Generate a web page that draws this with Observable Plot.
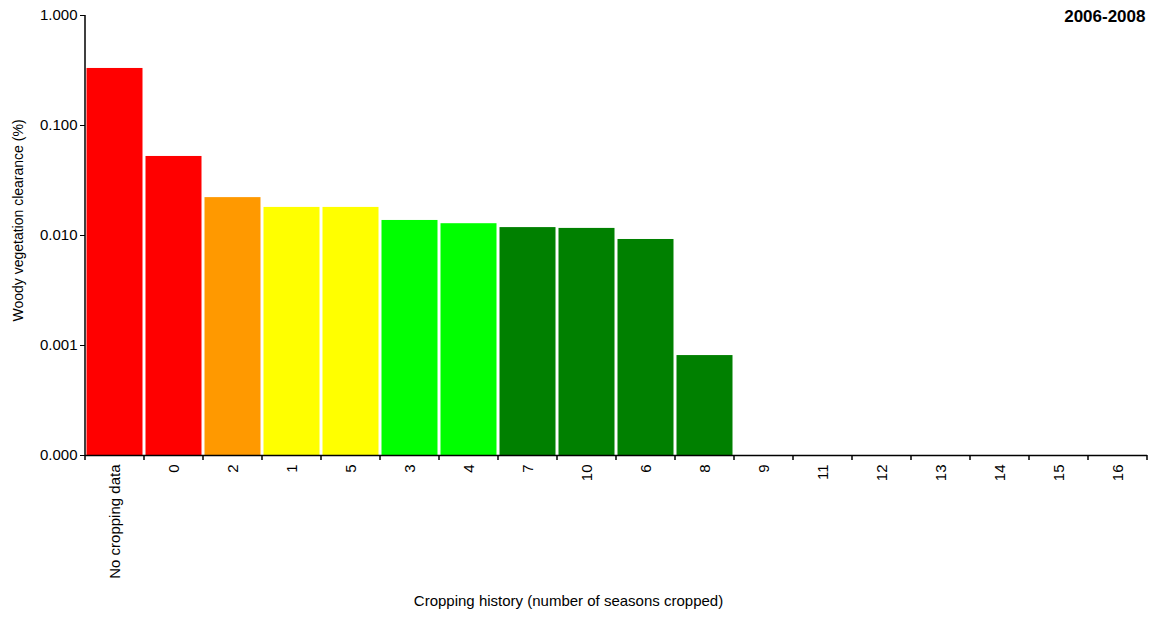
<!DOCTYPE html>
<html>
<head>
<meta charset="utf-8">
<script src="https://cdn.jsdelivr.net/npm/d3@7"></script>
<script src="https://cdn.jsdelivr.net/npm/@observablehq/plot@0.6"></script>
<style>
  html, body { margin: 0; padding: 0; background: #fff; }
  #chart svg { font-family: "Liberation Sans", Arial, sans-serif; }
</style>
</head>
<body>
<div id="chart"></div>
<script>
const categories = ["No cropping data","0","2","1","5","3","4","7","10","6","8","9","11","12","13","14","15","16"];
const values = [0.33, 0.0523, 0.0221, 0.018, 0.018, 0.0137, 0.0128, 0.0118, 0.0116, 0.0092, 0.00081, 0, 0, 0, 0, 0, 0, 0];
const barColors = ["#FF0000","#FF0000","#FF9900","#FFFF00","#FFFF00","#00FF00","#00FF00","#008000","#008000","#008000","#008000","#008000","#008000","#008000","#008000","#008000","#008000","#008000"];
const yTicks = [0.0001, 0.001, 0.01, 0.1, 1];
const periodLabel = "2006-2008";
const yLabel = "Woody vegetation clearance (%)";
const xLabel = "Cropping history (number of seasons cropped)";

const data = categories.map((c, i) => ({cat: c, value: values[i], color: barColors[i]}));
const yMin = yTicks[0];

const width = 1152, height = 617;
const marginLeft = 85, marginRight = 5, marginTop = 15, marginBottom = 162;

const chart = Plot.plot({
  width, height, marginLeft, marginRight, marginTop, marginBottom,
  style: {fontFamily: "'Liberation Sans', Arial, sans-serif", fontSize: "14px", color: "#000", background: "#fff"},
  x: {type: "band", domain: categories, padding: 0},
  y: {type: "log", domain: [yMin, 1]},
  marks: [
    Plot.barY(data.filter(d => d.value > 0), {
      x: "cat", y1: () => yMin, y2: "value", fill: d => d.color,
      insetLeft: 1.5, insetRight: 1.5
    }),
    Plot.axisY({
      ticks: yTicks, tickFormat: d3.format(".3f"), tickSize: 5, tickPadding: 3,
      label: null, fontSize: 15
    }),
    Plot.axisX({
      tickSize: 0, tickPadding: 9, tickRotate: -90,
      label: null, fontSize: 15
    }),
    Plot.ruleY([yMin], {stroke: "#000", strokeWidth: 1.5}),
    Plot.text([yLabel], {
      frameAnchor: "left", text: d => d, rotate: -90, fontSize: 14,
      textAnchor: "middle", lineAnchor: "middle", dx: -67, dy: -15
    }),
    Plot.text([xLabel], {
      frameAnchor: "bottom", text: d => d, fontSize: 15, letterSpacing: "0.3px",
      textAnchor: "middle", lineAnchor: "middle", dx: -48, dy: 146
    }),
    Plot.text([periodLabel], {
      frameAnchor: "top-right", text: d => d, fontWeight: "bold", fontSize: 17,
      textAnchor: "end", lineAnchor: "middle", dx: -2, dy: 1
    })
  ]
});

// Excel-style tick marks at category boundaries and the y-axis line, derived from the scales
const xs = chart.scale("x");
const ys = chart.scale("y");
const svg = d3.select(chart);
const y0 = ys.apply(yMin);
const yTop = ys.apply(1);
const g = svg.append("g").attr("stroke", "#000").attr("stroke-width", 1.5);
g.append("line").attr("x1", xs.apply(categories[0])).attr("x2", xs.apply(categories[0])).attr("y1", yTop).attr("y2", y0);
categories.forEach((c, i) => {
  const left = xs.apply(c);
  g.append("line").attr("x1", left).attr("x2", left).attr("y1", y0).attr("y2", y0 + 5);
  if (i === categories.length - 1) {
    const right = left + xs.bandwidth;
    g.append("line").attr("x1", right).attr("x2", right).attr("y1", y0).attr("y2", y0 + 5);
  }
});

document.getElementById("chart").appendChild(chart);
</script>
</body>
</html>
